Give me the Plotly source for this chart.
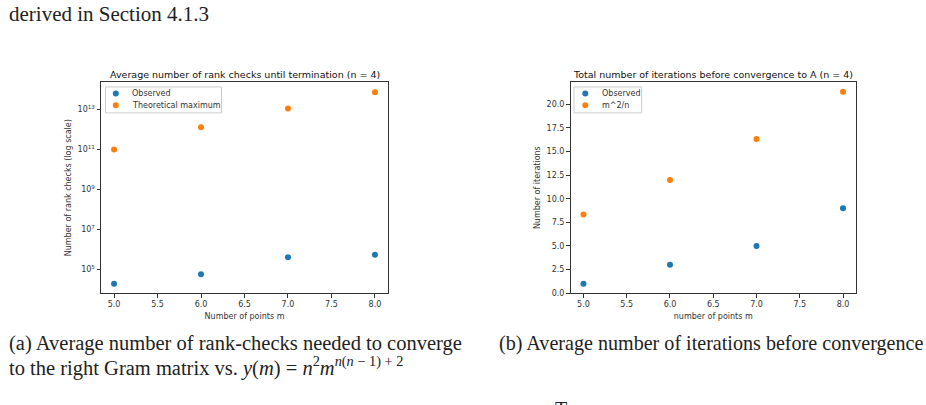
import plotly.graph_objects as go

# ---- data ----
m_points = [5, 6, 7, 8]
rank_observed = [2.0e4, 5.9e4, 4.2e5, 5.5e5]
rank_theoretical = [9.77e10, 1.25e12, 1.09e13, 7.04e13]
iter_observed = [1, 3, 5, 9]
iter_bound = [8.33, 12.0, 16.33, 21.33]

x_ticks = [5.0, 5.5, 6.0, 6.5, 7.0, 7.5, 8.0]
x_ticktext = ["5.0", "5.5", "6.0", "6.5", "7.0", "7.5", "8.0"]
log_tickvals = [1e5, 1e7, 1e9, 1e11, 1e13]
log_ticktext = ["10<sup>5</sup>", "10<sup>7</sup>", "10<sup>9</sup>", "10<sup>11</sup>", "10<sup>13</sup>"]
lin_tickvals = [0, 2.5, 5, 7.5, 10, 12.5, 15, 17.5, 20]
lin_ticktext = ["0.0", "2.5", "5.0", "7.5", "10.0", "12.5", "15.0", "17.5", "20.0"]

legend_a = ["Observed", "Theoretical maximum"]
legend_b = ["Observed", "m^2/n"]

BLUE = "#1f77b4"
ORANGE = "#ff7f0e"
AX = "#333333"
MPL_FONT = "DejaVu Sans"
SERIF = "Liberation Serif"

fig = go.Figure()
mk = dict(size=6, line=dict(width=0))
fig.add_trace(go.Scatter(x=m_points, y=rank_observed, mode="markers", name=legend_a[0],
                         marker=dict(color=BLUE, **mk), xaxis="x", yaxis="y"))
fig.add_trace(go.Scatter(x=m_points, y=rank_theoretical, mode="markers", name=legend_a[1],
                         marker=dict(color=ORANGE, **mk), xaxis="x", yaxis="y"))
fig.add_trace(go.Scatter(x=m_points, y=iter_observed, mode="markers", name=legend_b[0],
                         marker=dict(color=BLUE, **mk), xaxis="x2", yaxis="y2"))
fig.add_trace(go.Scatter(x=m_points, y=iter_bound, mode="markers", name=legend_b[1],
                         marker=dict(color=ORANGE, **mk), xaxis="x2", yaxis="y2"))

W, H = 926, 405
def px(x): return x / W
def py(y): return 1 - y / H

tickfont = dict(family=MPL_FONT, size=8, color=AX)
titlefont = dict(family=MPL_FONT, size=8, color=AX)
axis_common = dict(showline=True, mirror=True, linecolor=AX, linewidth=1, showgrid=False,
                   zeroline=False, ticks="outside", ticklen=3.5, tickwidth=0.8, tickcolor=AX,
                   tickfont=tickfont, title_font=titlefont, title_standoff=4)

y_dom = [py(297), py(83)]
fig.update_layout(
    width=W, height=H, margin=dict(l=0, r=0, t=0, b=0),
    paper_bgcolor="white", plot_bgcolor="white", showlegend=False,
    xaxis=dict(domain=[px(101), px(388)], range=[4.85, 8.15], tickvals=x_ticks, ticktext=x_ticktext,
               title_text="Number of points m", anchor="y", **axis_common),
    yaxis=dict(domain=y_dom, type="log", range=[3.82, 14.36], tickvals=log_tickvals, ticktext=log_ticktext,
               title_text="Number of rank checks (log scale)", anchor="x", **axis_common),
    xaxis2=dict(domain=[px(570.5), px(856)], range=[4.85, 8.15], tickvals=x_ticks, ticktext=x_ticktext,
                title_text="number of points m", anchor="y2", **axis_common),
    yaxis2=dict(domain=y_dom, range=[-0.017, 22.37], tickvals=lin_tickvals, ticktext=lin_ticktext,
                title_text="Number of iterations", anchor="x2", **axis_common),
)

shapes = []
annos = []
# manual matplotlib-style legends
def add_legend(x0, x1, y0, y1, mx, tx, rows, labels):
    shapes.append(dict(type="rect", xref="paper", yref="paper", x0=px(x0), x1=px(x1),
                       y0=py(y1), y1=py(y0), line=dict(color="#cccccc", width=1),
                       fillcolor="rgba(255,255,255,0.8)", layer="above"))
    for yy, lab, col in zip(rows, labels, [BLUE, ORANGE]):
        r = 3
        shapes.append(dict(type="circle", xref="paper", yref="paper", x0=px(mx - r), x1=px(mx + r),
                           y0=py(yy + r), y1=py(yy - r), fillcolor=col, line=dict(width=0), layer="above"))
        annos.append(dict(text=lab, x=px(tx), y=py(yy), xanchor="left", yanchor="middle",
                          font=dict(family=MPL_FONT, size=8, color=AX)))

add_legend(105.5, 221.5, 88, 114.3, 115.8, 130, [94.6, 106.6], legend_a)
add_legend(574, 641.7, 88, 114.3, 585.3, 599.5, [94.6, 106.6], legend_b)

caption_a2 = ("to the right Gram matrix vs. <i>y</i>(<i>m</i>) = <i>n</i><sup>2</sup>"
              "<i>m</i><sup><i>n</i>(<i>n</i> − 1) + 2</sup>")

annos += [
    dict(text="Average number of rank checks until termination (n = 4)", x=px(244.5), y=py(75),
         font=dict(family=MPL_FONT, size=9.5, color="#111"), xanchor="center", yanchor="middle"),
    dict(text="Total number of iterations before convergence to A (n = 4)", x=px(713), y=py(75),
         font=dict(family=MPL_FONT, size=9.5, color="#111"), xanchor="center", yanchor="middle"),
    dict(text="derived in Section 4.1.3", x=px(7), y=py(14),
         font=dict(family=SERIF, size=21, color="#222"), xanchor="left", yanchor="middle"),
    dict(text="(a) Average number of rank-checks needed to converge", x=px(7), y=py(348),
         font=dict(family=SERIF, size=20.5, color="#222"), xanchor="left", yanchor="middle"),
    dict(text=caption_a2, x=px(7), y=py(371), font=dict(family=SERIF, size=20.5, color="#222"),
         xanchor="left", yanchor="middle"),
    dict(text="(b) Average number of iterations before convergence", x=px(497), y=py(348),
         font=dict(family=SERIF, size=20.1, color="#222"), xanchor="left", yanchor="middle"),
    dict(text="T", x=px(553), y=py(401), font=dict(family=SERIF, size=20, color="#222"),
         xanchor="left", yanchor="top"),
]
for a in annos:
    a.update(xref="paper", yref="paper", showarrow=False)
fig.update_layout(annotations=annos, shapes=shapes)

fig.write_html("out.html")
